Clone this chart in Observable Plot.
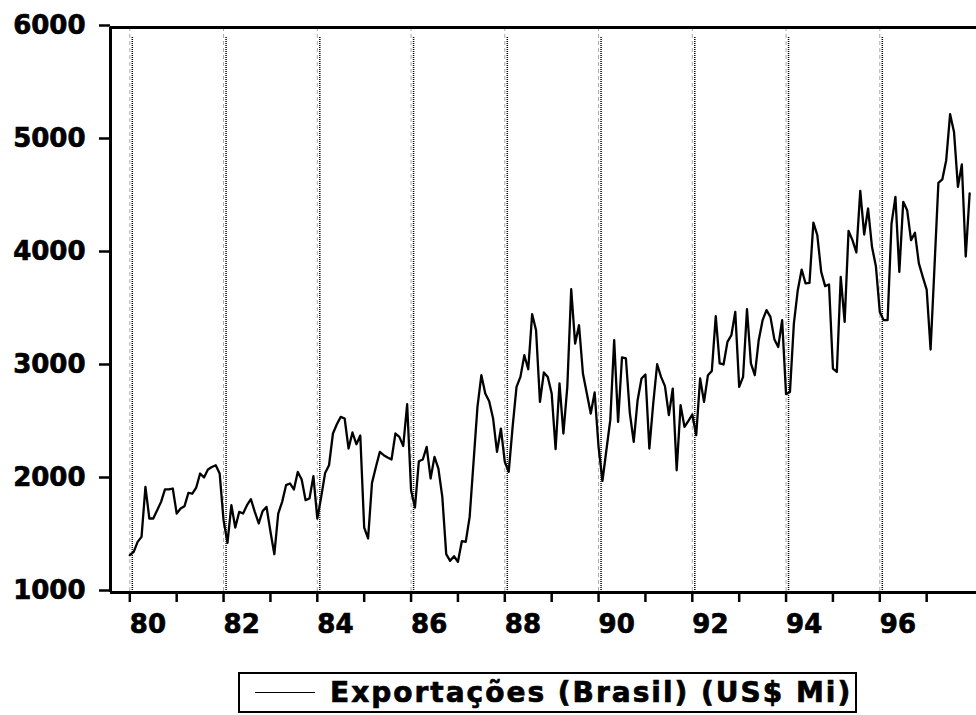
<!DOCTYPE html>
<html><head><meta charset="utf-8">
<script src="https://cdn.jsdelivr.net/npm/d3@7"></script>
<script src="https://cdn.jsdelivr.net/npm/@observablehq/plot@0.6"></script>
<style>
body{margin:0;background:#fff;}
#chart svg text{stroke:#000;stroke-width:0.7px;}
#legend{box-sizing:border-box;margin:12px 0 0 238px;width:619px;height:41px;border:2px solid #000;display:flex;align-items:center;font-family:"DejaVu Sans";font-weight:bold;font-size:28px;letter-spacing:2px;white-space:nowrap;color:#000;-webkit-text-stroke:0.7px #000;}
#legend .sw{display:inline-block;width:60px;height:0;border-top:1.5px solid #000;margin-left:15px;margin-right:15px;}
</style></head><body>
<div id="chart"></div>
<div id="legend"><span class="sw"></span><span>Exportações (Brasil) (US$ Mi)</span></div>
<script>
const startYear = 1980;
const values = [
1330,1359,1448,1492,1935,1655,1655,1728,1802,1912,1912,1920,
1699,1743,1764,1882,1876,1929,2053,2018,2088,2111,2126,2053,
1640,1439,1773,1575,1713,1699,1773,1826,1713,1611,1720,1758,
1540,1339,1699,1802,1950,1965,1912,2067,2000,1817,1832,2029,
1655,1846,2058,2126,2407,2489,2554,2540,2274,2416,2312,2389,
1575,1478,1970,2111,2244,2215,2195,2177,2407,2377,2297,2666,
1905,1752,2162,2177,2289,2009,2200,2097,1846,1339,1280,1321,
1271,1454,1448,1669,2156,2642,2923,2761,2693,2540,2244,2451,
2156,2067,2466,2820,2908,3100,2976,3463,3321,2687,2947,2908,
2761,2268,2850,2407,2820,3684,3203,3365,2938,2761,2584,2770,
2289,1988,2259,2525,3233,2510,3080,3071,2590,2333,2702,2894,
2929,2274,2673,3020,2908,2826,2569,2805,2082,2658,2466,2519,
2575,2392,2894,2687,2923,2961,3445,3027,3018,3218,3277,3483,
2820,2908,3507,3027,2923,3233,3410,3499,3439,3242,3173,3410,
2755,2775,3380,3675,3858,3735,3740,4274,4162,3837,3711,3726,
2982,2952,3793,3395,4200,4118,4009,4554,4168,4398,4059,3888,
3483,3410,3410,4265,4501,3837,4457,4383,4118,4183,3912,3793,
3681,3150,3881,4625,4655,4826,5233,5076,4590,4788,3973,4531
];
const majorYears = [1980,1982,1984,1986,1988,1990,1992,1994,1996];
const minorYears = [1981,1983,1985,1987,1989,1991,1993,1995,1997];
const yTicks = [1000,2000,3000,4000,5000,6000];
const xDomain = [1979.588, 1998.063];
const yDomain = [1000, 6000];

const data = values.map((v, i) => ({t: startYear + i / 12, v}));

const chart = Plot.plot({
  width: 976, height: 660,
  marginLeft: 110, marginRight: 0, marginTop: 27, marginBottom: 68,
  style: {fontFamily: "DejaVu Sans", fontWeight: "bold", fontSize: "26px", color: "#000", background: "#fff"},
  x: {domain: xDomain, label: null},
  y: {domain: yDomain, label: null},
  marks: [
    Plot.ruleX(majorYears, {stroke: "#aaa", strokeDasharray: "4,3", strokeWidth: 1}),
    Plot.ruleX(majorYears, {stroke: "#000", strokeDasharray: "1,1", strokeWidth: 1.5, dx: 2.5, insetTop: 10}),
    Plot.line(data, {x: "t", y: "v", stroke: "#000", strokeWidth: 2.3}),
    Plot.ruleY([yDomain[1]], {strokeWidth: 3}),
    Plot.ruleY([yDomain[0]], {strokeWidth: 3}),
    Plot.ruleX([xDomain[0]], {strokeWidth: 3}),
    Plot.axisY({ticks: yTicks, tickSize: 11, tickPadding: 14, strokeWidth: 2.5, dy: -2, tickFormat: d => String(d), label: null}),
    Plot.axisX({ticks: majorYears, tickSize: 10, tickPadding: 12, strokeWidth: 2.5, textAnchor: "start", tickFormat: d => String(d).slice(2), label: null}),
    Plot.axisX({ticks: minorYears, tickSize: 10, strokeWidth: 2.5, tickFormat: () => "", label: null})
  ]
});
document.getElementById("chart").appendChild(chart);
</script></body></html>
